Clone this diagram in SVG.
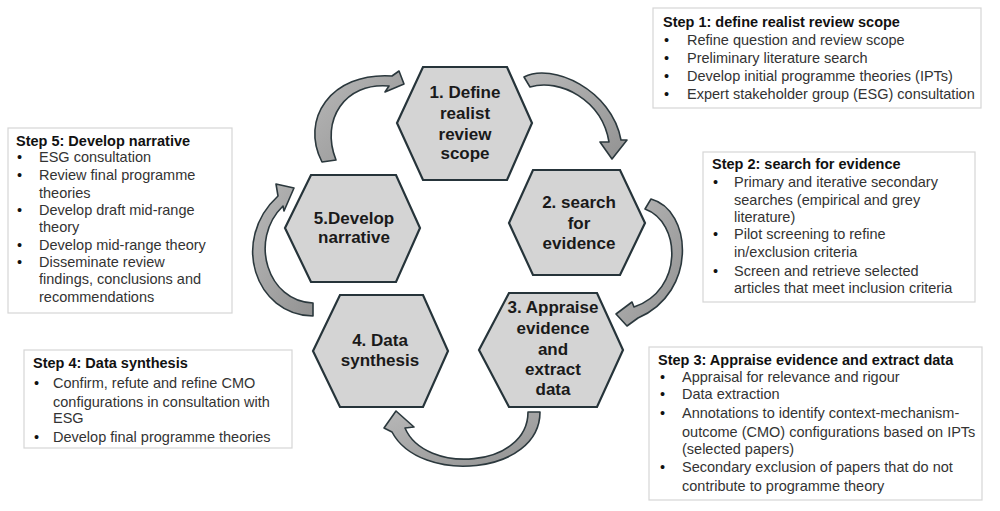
<svg xmlns="http://www.w3.org/2000/svg" width="1000" height="511" viewBox="0 0 1000 511">
<defs>
<linearGradient id="ag" x1="0" y1="0" x2="1" y2="1">
<stop offset="0" stop-color="#b8b8b8"/>
<stop offset="1" stop-color="#929292"/>
</linearGradient>
</defs>
<style>
.hex{fill:#d4d4d4;stroke:#26343a;stroke-width:2.2;stroke-linejoin:miter}
.ht{font-family:"Liberation Sans",Arial,sans-serif;font-weight:bold;font-size:17px;fill:#1a1a1a;text-anchor:middle}
.box{fill:#ffffff;stroke:#d6d6d6;stroke-width:1.2}
.bt{font-family:"Liberation Sans",Arial,sans-serif;font-weight:bold;font-size:14.5px;fill:#111}
.it{font-family:"Liberation Sans",Arial,sans-serif;font-size:14.5px;fill:#333}
.bu{font-family:"Liberation Sans",Arial,sans-serif;font-size:14.5px;fill:#111}
.arr{fill:url(#ag);stroke:#2b383d;stroke-width:1.6;stroke-linejoin:round}
</style>
<rect width="1000" height="511" fill="#ffffff"/>

<g id="connectors">
<path class="arr" d="M524,77 C552,62 612,90 621,140 L627,140 L612,159 L600,142 L609,142 C602,100 560,78 530,87 Z"/>
<path class="arr" d="M651,199 C692,210 698,292 638,318 L627,326 L616,314 L632,302 L634,307 C684,290 681,222 645,209 Z"/>
<path class="arr" d="M540,412 C540,475 420,485 392,432 L384,428 L396,411 L414,427 L405,428 C425,475 528,468 528,412 Z"/>
<path class="arr" d="M313,316 C255,315 230,240 278,196 L276,184 L294,188 L284,211 L283,206 C248,240 268,302 313,303 Z"/>
<path class="arr" d="M322,162 C300,120 330,72 392,76 L399,71 L404,84 L385,92 L389,86 C345,82 320,120 336,160 Z"/>
</g>

<g id="hex1">
<polygon class="hex" points="423,67 507,67 532,123 507,180 423,180 397,123"/>
<text class="ht" x="465" y="98">1. Define</text>
<text class="ht" x="465" y="119">realist</text>
<text class="ht" x="465" y="139.5">review</text>
<text class="ht" x="465" y="159">scope</text>
</g>
<g id="hex2">
<polygon class="hex" points="533,170 620,170 645,223 620,275 533,275 509,223"/>
<text class="ht" x="579" y="208">2. search</text>
<text class="ht" x="579" y="229">for</text>
<text class="ht" x="579" y="249">evidence</text>
</g>
<g id="hex3">
<polygon class="hex" points="509,293 597,293 623,350 597,407 509,407 479,350"/>
<text class="ht" x="553" y="313">3. Appraise</text>
<text class="ht" x="553" y="334">evidence</text>
<text class="ht" x="553" y="355">and</text>
<text class="ht" x="553" y="375">extract</text>
<text class="ht" x="553" y="395">data</text>
</g>
<g id="hex4">
<polygon class="hex" points="340,295 423,295 448,351 423,407 340,407 313,351"/>
<text class="ht" x="380" y="346">4. Data</text>
<text class="ht" x="380" y="366">synthesis</text>
</g>
<g id="hex5">
<polygon class="hex" points="311,175 396,175 420,228 396,282 311,282 285,228"/>
<text class="ht" x="354" y="224">5.Develop</text>
<text class="ht" x="354" y="243">narrative</text>
</g>

<g id="box1">
<rect class="box" x="653" y="8" width="328" height="100"/>
<text class="bt" x="663" y="27">Step 1: define realist review scope</text>
<text class="bu" x="664" y="45">•</text><text class="it" x="687" y="45">Refine question and review scope</text>
<text class="bu" x="664" y="63">•</text><text class="it" x="687" y="63">Preliminary literature search</text>
<text class="bu" x="664" y="81">•</text><text class="it" x="687" y="81">Develop initial programme theories (IPTs)</text>
<text class="bu" x="664" y="99">•</text><text class="it" x="687" y="99">Expert stakeholder group (ESG) consultation</text>
</g>
<g id="box2">
<rect class="box" x="703" y="152" width="272" height="150"/>
<text class="bt" x="712" y="169">Step 2: search for evidence</text>
<text class="bu" x="713" y="187">•</text><text class="it" x="734" y="187">Primary and iterative secondary</text>
<text class="it" x="734" y="205">searches (empirical and grey</text>
<text class="it" x="734" y="222">literature)</text>
<text class="bu" x="713" y="239">•</text><text class="it" x="734" y="239">Pilot screening to refine</text>
<text class="it" x="734" y="257">in/exclusion criteria</text>
<text class="bu" x="713" y="276">•</text><text class="it" x="734" y="276">Screen and retrieve selected</text>
<text class="it" x="734" y="293">articles that meet inclusion criteria</text>
</g>
<g id="box3">
<rect class="box" x="649" y="347" width="333" height="153"/>
<text class="bt" x="658" y="365">Step 3: Appraise evidence and extract data</text>
<text class="bu" x="660" y="382">•</text><text class="it" x="682" y="382">Appraisal for relevance and rigour</text>
<text class="bu" x="660" y="399">•</text><text class="it" x="682" y="399">Data extraction</text>
<text class="bu" x="660" y="418">•</text><text class="it" x="682" y="418">Annotations to identify context-mechanism-</text>
<text class="it" x="682" y="437">outcome (CMO) configurations based on IPTs</text>
<text class="it" x="682" y="454">(selected papers)</text>
<text class="bu" x="660" y="472">•</text><text class="it" x="682" y="472">Secondary exclusion of papers that do not</text>
<text class="it" x="682" y="491">contribute to programme theory</text>
</g>
<g id="box4">
<rect class="box" x="24" y="350" width="268" height="98"/>
<text class="bt" x="33" y="368">Step 4: Data synthesis</text>
<text class="bu" x="34" y="388">•</text><text class="it" x="53" y="388">Confirm, refute and refine CMO</text>
<text class="it" x="53" y="407">configurations in consultation with</text>
<text class="it" x="53" y="423">ESG</text>
<text class="bu" x="34" y="442">•</text><text class="it" x="53" y="442">Develop final programme theories</text>
</g>
<g id="box5">
<rect class="box" x="8" y="128" width="224" height="185"/>
<text class="bt" x="16" y="146">Step 5: Develop narrative</text>
<text class="bu" x="17" y="162">•</text><text class="it" x="39" y="162">ESG consultation</text>
<text class="bu" x="17" y="180">•</text><text class="it" x="39" y="180">Review final programme</text>
<text class="it" x="39" y="198">theories</text>
<text class="bu" x="17" y="215">•</text><text class="it" x="39" y="215">Develop draft mid-range</text>
<text class="it" x="39" y="232">theory</text>
<text class="bu" x="17" y="250">•</text><text class="it" x="39" y="250">Develop mid-range theory</text>
<text class="bu" x="17" y="267">•</text><text class="it" x="39" y="267">Disseminate review</text>
<text class="it" x="39" y="284">findings, conclusions and</text>
<text class="it" x="39" y="302">recommendations</text>
</g>
</svg>
